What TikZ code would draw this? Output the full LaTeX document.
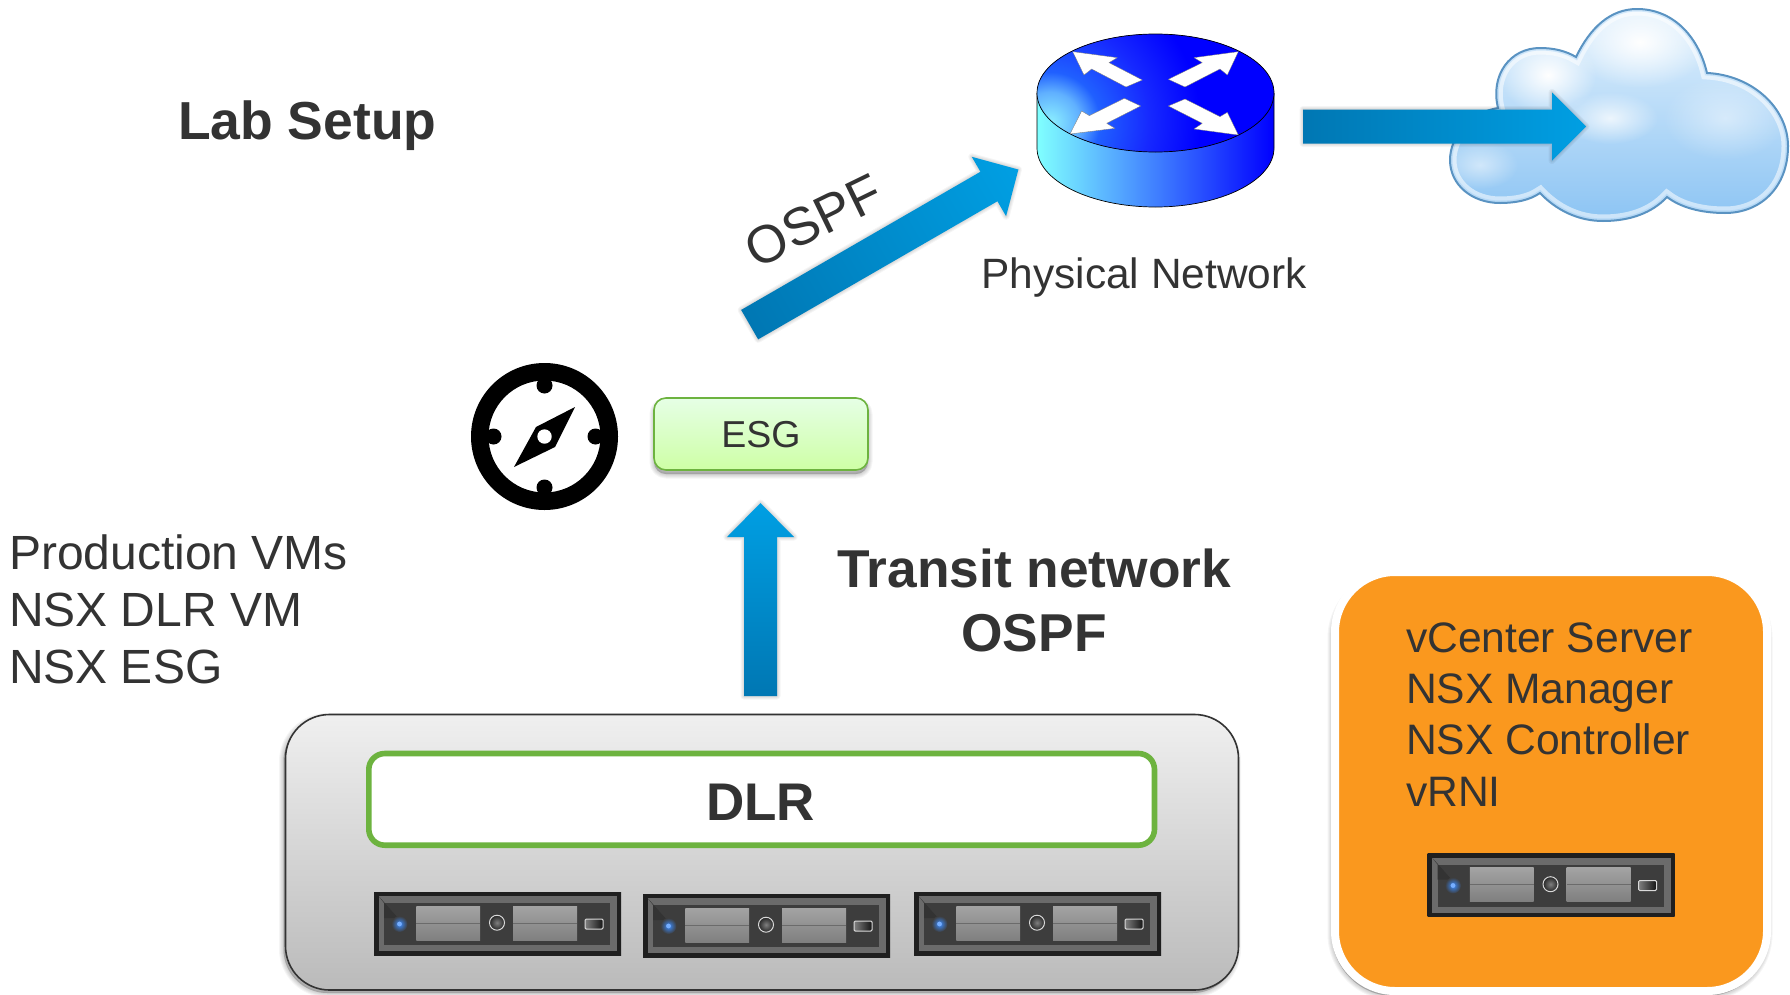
\documentclass[tikz,border=0pt]{standalone}
\usepackage{fontspec}
\setmainfont{Liberation Sans}
\usetikzlibrary{calc,fadings}
\definecolor{ink}{HTML}{333333}
\definecolor{ardark}{HTML}{0077B3}
\definecolor{armid}{HTML}{0094D9}
\definecolor{arlight}{HTML}{009FE3}
\definecolor{vgreen}{HTML}{6DB33F}
\definecolor{vorange}{HTML}{FA981E}
\definecolor{cloudrim}{HTML}{5A93C2}
\definecolor{cloudtop}{HTML}{E2F1FD}
\definecolor{cloudmid}{HTML}{B7DAF8}
\definecolor{cloudlow}{HTML}{8CC4F3}
\definecolor{rtA}{HTML}{8CF0FF}
\definecolor{rtB}{HTML}{60B0FF}
\definecolor{rtC}{HTML}{2060FF}
\definecolor{rtD}{HTML}{1628FF}
\definecolor{rsL}{HTML}{80FFFF}
\definecolor{rsM}{HTML}{3A66FF}
\definecolor{rsR}{HTML}{0000FF}
\definecolor{ledblue}{HTML}{3B8CFF}
\pgfdeclareradialshading{routertop}{\pgfpoint{0bp}{0bp}}{color(0bp)=(rtA); color(3.75bp)=(rtB); color(6.25bp)=(rtC); color(12.5bp)=(rtD); color(18.75bp)=(rsR); color(50bp)=(rsR)}
\tikzfading[name=softspot,inner color=transparent!0,outer color=transparent!100]
\newcommand\fs[2]{\fontsize{#1bp}{#2bp}\selectfont}
\tikzset{
  lab/.style={text=ink,inner sep=0pt,outer sep=0pt},
  hi/.style={fill=white,path fading=softspot},
  routerarrow/.style={fill=white,draw=black!55,line width=.3bp,line join=round},
  pics/rackserver/.style={code={
    \shade[left color=black!88,middle color=black!50,right color=black!88] (0,0) rectangle (247,63);
    \fill[black!58] (4.5,4) rectangle (243,59);
    \fill[black!76] (10,11) rectangle (236,53);
    \fill[black!80] (4.5,4) -- (24,26) -- (10,26) -- (10,11) -- cycle;
    \shade[top color=black!36,bottom color=black!50] (42.4,14) rectangle (106,48);
    \shade[top color=black!36,bottom color=black!50] (139,14) rectangle (203,48);
    \draw[black!58,line width=.8bp] (42.4,31) -- (106,31) (139,31) -- (203,31);
    \shade[inner color=black!50,outer color=black!85] (123,30.7) circle (7.5bp);
    \draw[white!85!black,line width=1bp] (123,30.7) circle (7.5bp);
    \shade[inner color=ledblue,outer color=black!76] (25.5,32) circle (8bp);
    \fill[ledblue!70!white] (25.5,32) circle (2.4bp);
    \shade[left color=black!50,right color=black!92,draw=white!85!black,line width=1bp,rounded corners=1.2bp] (211,27) rectangle (229,37);
  }}
}
\newcommand\softrim[2]{% path, offset
  \begin{scope}[shift={(#2)}]
    \foreach \w in {1,3,5,7,9}{\draw[black,opacity=.04,line width=\w bp,line join=round] #1;}
    \fill[black,opacity=.22] #1;
  \end{scope}}
\newcommand\blockarrow[5]{%
  \pgfmathanglebetweenpoints{\pgfpointanchor{#1}{center}}{\pgfpointanchor{#2}{center}}\let\arang\pgfmathresult
  \pgfpointdiff{\pgfpointanchor{#1}{center}}{\pgfpointanchor{#2}{center}}\pgfgetlastxy\ardx\ardy
  \pgfmathsetmacro\arlen{veclen(\ardx,\ardy)/1.00375}
  \pgfmathsetmacro\arbase{\arlen-#5}
  \def\arpoly{(0,-#3) -- (\arbase,-#3) -- (\arbase,-#4) -- (\arlen,0) -- (\arbase,#4) -- (\arbase,#3) -- (0,#3) -- cycle}
  \begin{scope}[shift={(0,4)}]\begin{scope}[shift={(#1)},rotate=\arang]
    \foreach \w in {1,3,5,7}{\draw[black,opacity=.04,line width=\w bp,line join=round] \arpoly;}
  \end{scope}\end{scope}
  \begin{scope}[transform canvas={shift={(#1)},rotate=\arang}]
    \shade[left color=ardark,middle color=armid,right color=arlight] \arpoly;
  \end{scope}}
\begin{document}
\begin{tikzpicture}[x=1bp,y=-1bp]
\useasboundingbox (0,0) rectangle (1790,994);
\fill[white] (0,0) rectangle (1790,994);

% ---------- Cloud
\def\cloudpath{(1576,57) .. controls (1590,28) and (1610,9) .. (1637,9) .. controls (1672,9) and (1698,35) .. (1707,73)
 .. controls (1752,75) and (1788,108) .. (1788,146) .. controls (1788,188) and (1760,213) .. (1725,213) .. controls (1700,213) and (1680,207) .. (1667,197)
 .. controls (1652,213) and (1630,221) .. (1603,221) .. controls (1578,221) and (1556,210) .. (1540,193)
 .. controls (1530,200) and (1516,203) .. (1500,203) .. controls (1472,203) and (1450,185) .. (1450,160) .. controls (1450,135) and (1472,112) .. (1498,108)
 .. controls (1490,75) and (1510,48) .. (1540,48) .. controls (1554,48) and (1566,51) .. (1576,57) -- cycle}
\begin{scope}
  \clip \cloudpath;
  \shade[top color=cloudtop,middle color=cloudmid,bottom color=cloudlow] (1451,9) rectangle (1789,221);
  \fill[hi] (1640,42) ellipse (70 and 46);
  \fill[hi] (1548,75) ellipse (48 and 40);
  \fill[hi,opacity=.75] (1610,118) ellipse (48 and 26);
  \fill[hi,opacity=.45] (1725,118) ellipse (62 and 42);
  \fill[hi,opacity=.5] (1480,165) ellipse (38 and 24);
  \draw[white,opacity=.55,line width=13bp] \cloudpath;
  \draw[cloudlow,opacity=.35,line width=5bp] \cloudpath;
\end{scope}
\draw[cloudrim,line width=2bp] \cloudpath;

% ---------- Router
\coordinate (rc) at (1155.5,93);
\shade[left color=rsL,middle color=rsM,right color=rsR]
  (1037,93) -- (1037,148) .. controls (1037,180.6) and (1090.3,207) .. (1155.5,207)
  .. controls (1220.7,207) and (1274,180.6) .. (1274,148) -- (1274,93) -- cycle;
\draw[black,line width=.7bp] (1037,93) -- (1037,148) .. controls (1037,180.6) and (1090.3,207) .. (1155.5,207)
  .. controls (1220.7,207) and (1274,180.6) .. (1274,148) -- (1274,93);
\begin{scope}
  \clip (rc) ellipse (118.5 and 59);
  \fill[rsR] (1037,30) rectangle (1274,155);
  \shade[shading=routertop] (1050,122) circle (200bp);
\end{scope}
\draw[black,line width=.7bp] (rc) ellipse (118.5 and 59);
\begin{scope}[shift={(1030,25)},x=.33333bp,y=-.33333bp]
  \draw[routerarrow] (128,80) -- (262,98) -- (237,113) -- (337,165) -- (288,186) -- (185,132) -- (162,150) -- cycle;
  \draw[routerarrow] (625,80) -- (492,98) -- (517,113) -- (415,163) -- (465,186) -- (570,132) -- (592,150) -- cycle;
  \draw[routerarrow] (120,327) -- (255,310) -- (230,295) -- (332,243) -- (283,220) -- (178,272) -- (155,258) -- cycle;
  \draw[routerarrow] (625,330) -- (492,312) -- (517,295) -- (415,243) -- (465,222) -- (570,275) -- (592,262) -- cycle;
\end{scope}

% ---------- Block arrows
\coordinate (inetTail) at (1303,126.5); \coordinate (inetTip) at (1586,126.5);
\blockarrow{inetTail}{inetTip}{17}{34}{34}
\coordinate (ospfTail) at (749.65,324.65); \coordinate (ospfTip) at (1018.4,169.5);
\blockarrow{ospfTail}{ospfTip}{17}{34.3}{34}
\coordinate (transitTail) at (760.5,696); \coordinate (transitTip) at (760.5,503);
\blockarrow{transitTail}{transitTip}{16.5}{33.5}{34}

% ---------- Compass
\coordinate (cp) at (544.5,436.5);
\fill[black,even odd rule] (cp) circle (73.5bp) (cp) circle (56bp);
\foreach \a in {0,90,180,270}{\fill[black] ($(cp)+(\a:51)$) circle (8bp);}
\fill[black] (575,407) -- (555,447) -- (514,467) -- (536,427) -- cycle;
\fill[white] (cp) circle (7.2bp);

% ---------- ESG
\softrim{[rounded corners=12bp] (654,398) rectangle (868,470)}{0,4}
\shade[top color=green!10!white,bottom color=green!55!yellow!35!white,draw=vgreen,line width=1.6bp,rounded corners=12bp] (654,398) rectangle (868,470);
\node[lab,anchor=base,font=\fs{37.5}{43}] (esg) at (761,447) {ESG};

% ---------- DLR container
\softrim{[rounded corners=44bp] (285.5,714.5) rectangle (1238.5,990)}{-2,3}
\shade[top color=black!6,bottom color=black!27,draw=black!80,line width=1.6bp,rounded corners=44bp] (285.5,714.5) rectangle (1238.5,990);
\draw[fill=white,draw=vgreen,line width=5.6bp,rounded corners=16bp] (368.8,753.5) rectangle (1154.5,845.2);
\node[lab,anchor=base,font=\bfseries\fs{53}{60}] (dlr) at (760.5,820) {DLR};
\pic at (374,892) {rackserver};
\pic at (643,894) {rackserver};
\pic at (914,892) {rackserver};

% ---------- Orange box
\softrim{[rounded corners=62bp] (1333,572) rectangle (1769,992)}{-1,4}
\draw[fill=vorange,draw=white,line width=8bp,rounded corners=60bp] (1335,572) rectangle (1767,991);
\node[lab,anchor=north west,align=left,font=\fs{42.6}{51.3}] (mgmt) at (1406,622.5)
  {vCenter Server\\NSX Manager\\NSX Controller\\vRNI};
\pic at (1427.5,853.5) {rackserver};

% ---------- Labels
\node[lab,anchor=base west,font=\bfseries\fs{53.5}{60}] (title) at (178,139.5) {Lab Setup};
\node[lab,anchor=north west,align=left,font=\fs{48}{57}] (prod) at (9,534.5)
  {Production VMs\\NSX DLR VM\\NSX ESG};
\node[lab,anchor=base,font=\fs{42.4}{50}] (phys) at (1144,288) {Physical Network};
\node[lab,align=center,anchor=north,font=\bfseries\fs{53.3}{64}] (transit) at (1034,549)
  {Transit network\\OSPF};
\node[lab,rotate=26,font=\fs{53}{60}] (ospflab) at (813.5,221) {OSPF};
\end{tikzpicture}
\end{document}
